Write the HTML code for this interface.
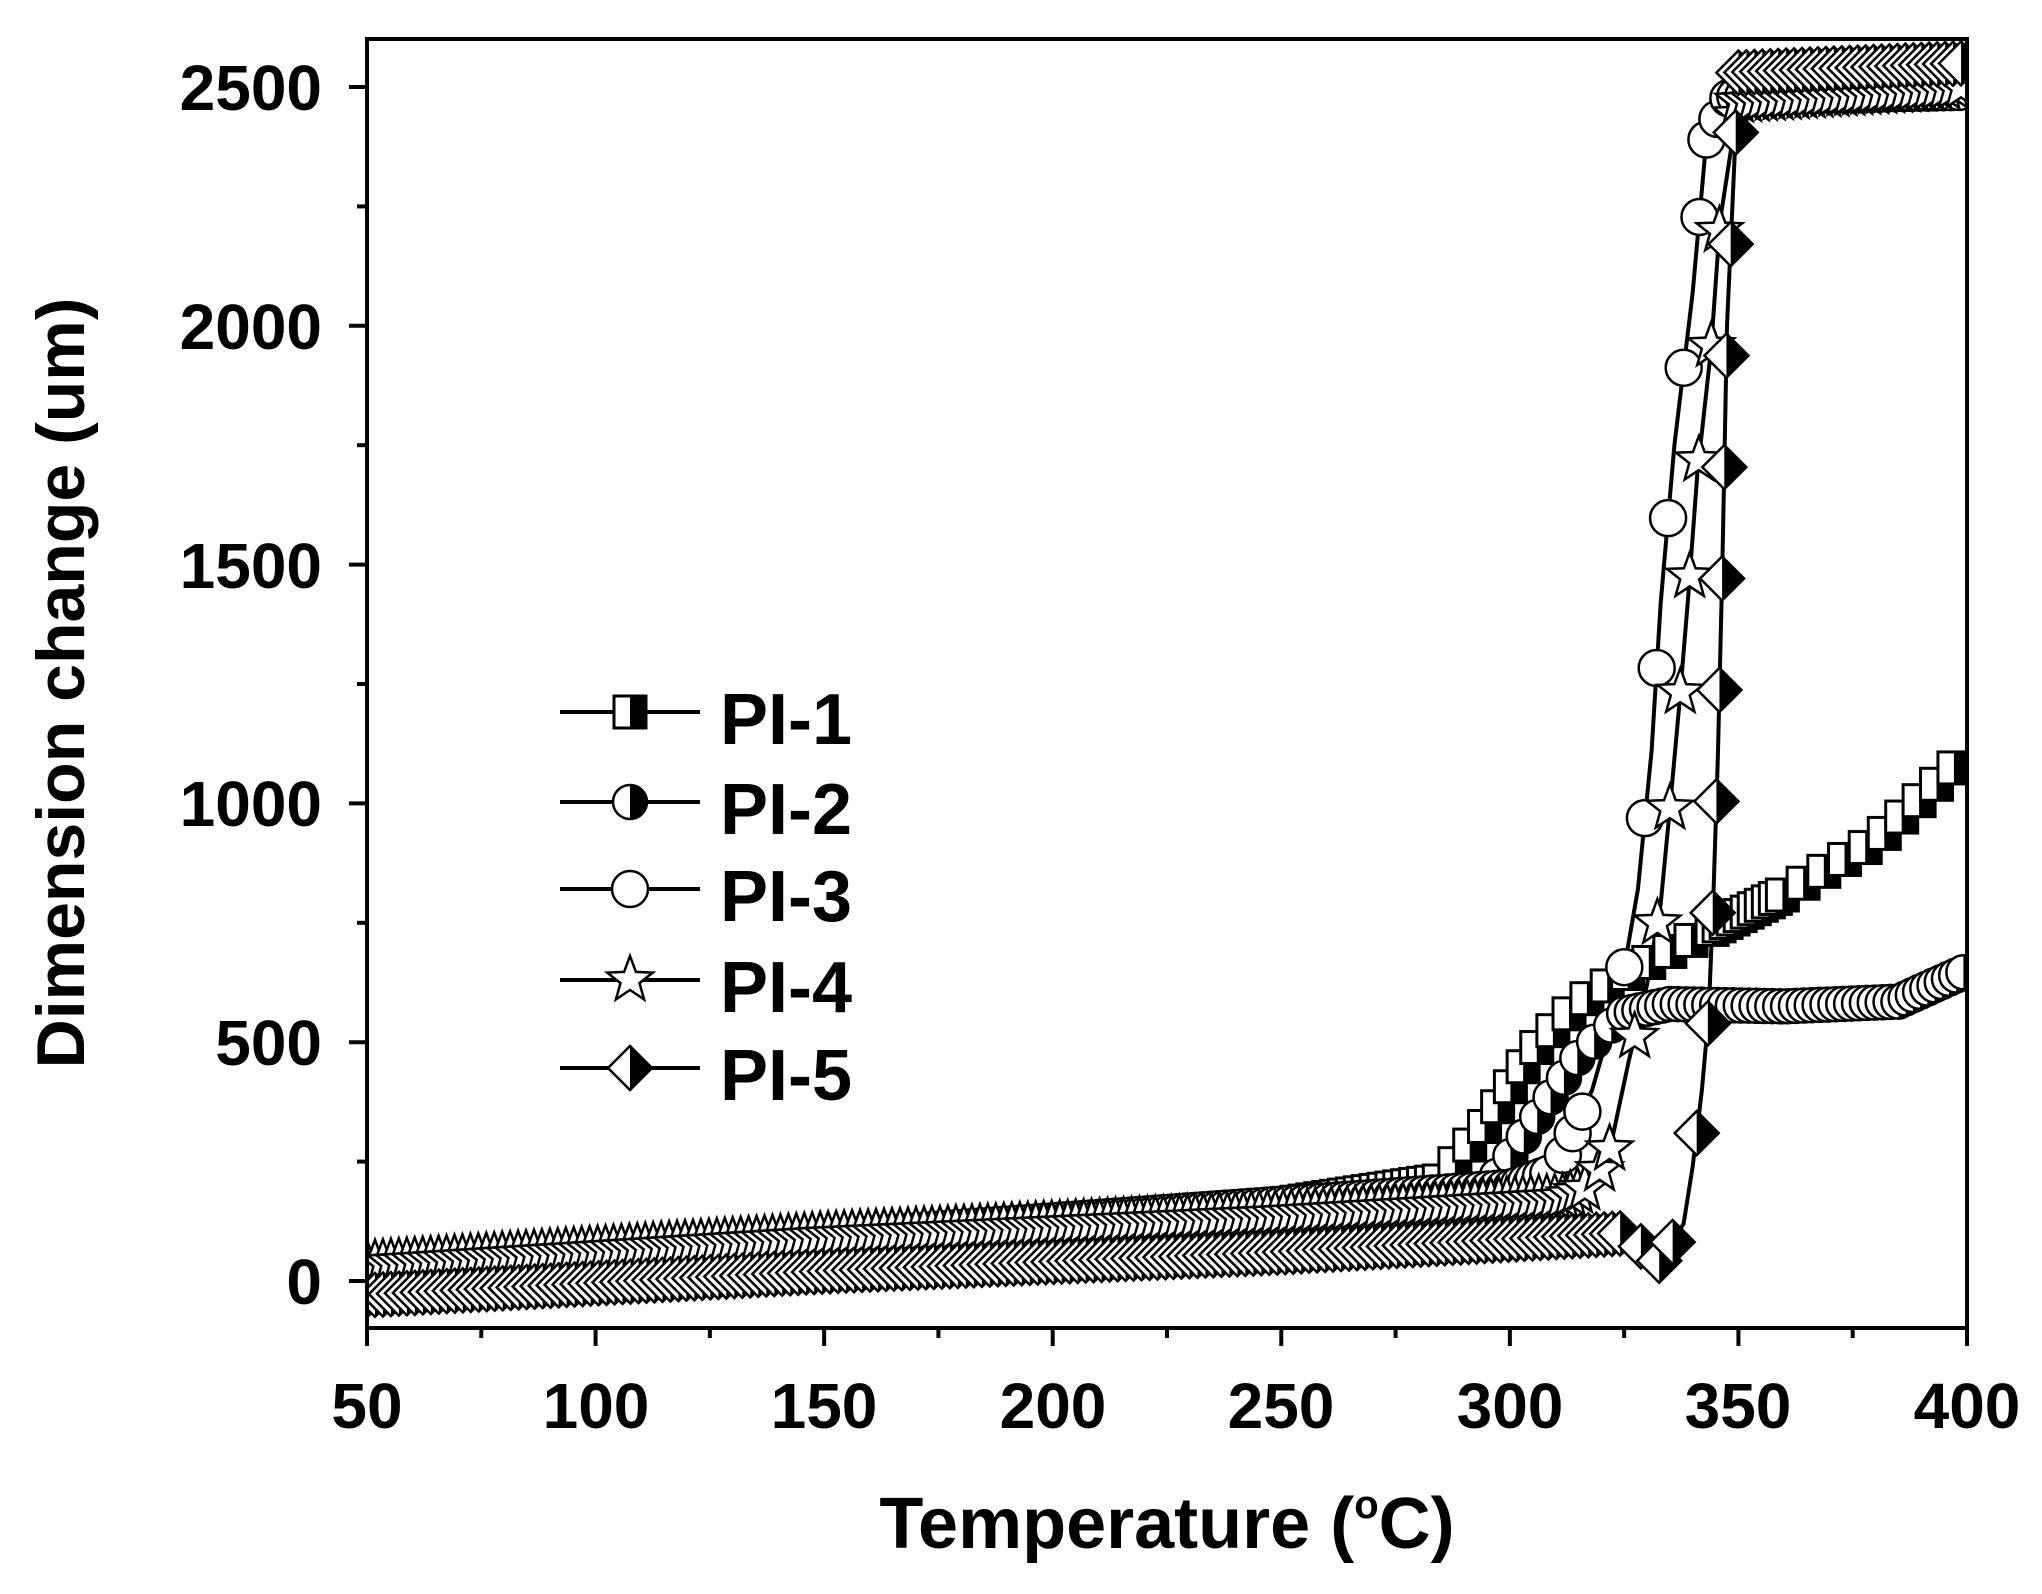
<!DOCTYPE html>
<html><head><meta charset="utf-8"><style>
html,body{margin:0;padding:0;background:#fff;}
svg{display:block;font-family:"Liberation Sans",Arial,sans-serif;font-weight:bold;}
</style></head><body>
<svg id="s" width="2042" height="1594" viewBox="0 0 2042 1594" xmlns="http://www.w3.org/2000/svg">
<defs>
<clipPath id="plot"><rect x="367" y="39" width="1600" height="1289"/></clipPath>
</defs>
<rect width="2042" height="1594" fill="#fff"/>
<g id="series" clip-path="url(#plot)"></g>
<rect x="367" y="39" width="1600" height="1289" fill="none" stroke="#000" stroke-width="4"/>
<g id="ticks" stroke="#000" stroke-width="4"></g>
<g font-size="64" text-anchor="middle">
<text x="367" y="1428">50</text><text x="596" y="1428">100</text><text x="824" y="1428">150</text>
<text x="1053" y="1428">200</text><text x="1281" y="1428">250</text><text x="1510" y="1428">300</text>
<text x="1738" y="1428">350</text><text x="1967" y="1428">400</text>
</g>
<g font-size="64" text-anchor="end">
<text x="322" y="1304">0</text><text x="322" y="1065">500</text><text x="322" y="826">1000</text>
<text x="322" y="588">1500</text><text x="322" y="349">2000</text><text x="322" y="110">2500</text>
</g>
<text x="1167" y="1548" font-size="72" text-anchor="middle">Temperature (<tspan font-size="40" dy="-30">o</tspan><tspan dy="30">C)</tspan></text>
<text transform="translate(84,683) rotate(-90)" font-size="68" text-anchor="middle">Dimension change (um)</text>
<g id="legend"></g>
</svg>
<script>
var NS="http://www.w3.org/2000/svg";
function X(t){return 367+(t-50)*1600/350;}
function Y(v){return 1281-v*(1281-87)/2500;}
function el(n,a,p){var e=document.createElementNS(NS,n);for(var k in a)e.setAttribute(k,a[k]);(p||document.getElementById('series')).appendChild(e);return e;}
var tk=document.getElementById('ticks');
for(var t=50;t<=400;t+=25){var big=(t%50==0);el('line',{x1:X(t),x2:X(t),y1:1328,y2:1328+(big?18:10)},tk);}
for(var v=0;v<=2500;v+=250){var big=(v%500==0);el('line',{x1:367,x2:367-(big?18:10),y1:Y(v),y2:Y(v)},tk);}
function marker(type,x,y,par){
  var g=el('g',{},par);
  var s=16;
  if(type=='sq'){el('rect',{x:x-s,y:y-s,width:2*s,height:2*s,fill:'#fff',stroke:'#000','stroke-width':3},g);el('rect',{x:x,y:y-s,width:s,height:2*s,fill:'#000'},g);}
  else if(type=='hc'){el('circle',{cx:x,cy:y,r:s+1,fill:'#fff',stroke:'#000','stroke-width':2.5},g);el('path',{d:'M'+x+' '+(y-s-1)+' A'+(s+1)+' '+(s+1)+' 0 0 1 '+x+' '+(y+s+1)+'Z',fill:'#000'},g);}
  else if(type=='c'){el('circle',{cx:x,cy:y,r:s+2,fill:'#fff',stroke:'#000','stroke-width':2.5},g);}
  else if(type=='st'){var p='';for(var i=0;i<10;i++){var r=i%2?10:24,a=-Math.PI/2+i*Math.PI/5;p+=(i?'L':'M')+(x+r*Math.cos(a)).toFixed(1)+' '+(y+r*Math.sin(a)).toFixed(1);}el('path',{d:p+'Z',fill:'#fff',stroke:'#000','stroke-width':2.5},g);}
  else if(type=='dm'){var d=22;el('path',{d:'M'+x+' '+(y-d)+'L'+(x+d)+' '+y+'L'+x+' '+(y+d)+'L'+(x-d)+' '+y+'Z',fill:'#fff',stroke:'#000','stroke-width':2.5},g);el('path',{d:'M'+x+' '+(y-d)+'L'+(x+d)+' '+y+'L'+x+' '+(y+d)+'Z',fill:'#000'},g);}
}
var S=[
 {m:'sq',big:40,pts:[[50,10],[150,80],[250,160],[285,210],[295,330],[305,480],[315,580],[325,640],[335,690],[345,740],[360,810],[380,920],[400,1100]]},
 {m:'hc',big:40,pts:[[50,20],[150,80],[250,150],[295,190],[305,330],[315,470],[325,560],[335,580],[360,575],[385,585],[400,650]]},
 {m:'c',big:150,pts:[[50,30],[150,90],[250,160],[300,195],[310,230],[318,400],[324,600],[328,820],[331,1110],[333,1420],[336,1750],[340,2070],[343,2390],[348,2480],[400,2490]]},
 {m:'st',big:115,pts:[[50,35],[150,95],[250,140],[312,175],[318,200],[322,280],[326,460],[330,620],[333,790],[335,990],[337,1200],[339,1430],[341,1690],[344,1950],[346,2220],[350,2470],[400,2500]]},
 {m:'dm',big:110,pts:[[50,-30],[150,20],[250,60],[325,100],[333,40],[338,120],[340,240],[342,400],[343.5,560],[344.5,800],[345.5,1100],[346.5,1500],[347.5,2000],[350,2530],[400,2550]]}
];
S.forEach(function(s){
  var P=s.pts.map(function(p){return [X(p[0]),Y(p[1]),p[0]];});
  var d='';P.forEach(function(p,i){d+=(i?'L':'M')+p[0].toFixed(1)+' '+p[1].toFixed(1);});
  el('path',{d:d,fill:'none',stroke:'#000','stroke-width':4});
});
S.forEach(function(s){
  var P=s.pts.map(function(p){return [X(p[0]),Y(p[1]),p[0]];});
  var last=null;
  for(var i=0;i<P.length-1;i++){
    var a=P[i],b=P[i+1],L=Math.hypot(b[0]-a[0],b[1]-a[1]),n=Math.ceil(L/2);
    var slope=Math.abs(b[1]-a[1])/Math.max(0.01,Math.abs(b[0]-a[0]));
    var thr=slope<0.5?6:(slope<3?23:s.big);
    for(var k=0;k<n;k++){
      var f=k/n,x=a[0]+(b[0]-a[0])*f,y=a[1]+(b[1]-a[1])*f;
      if(!last||Math.hypot(x-last[0],y-last[1])>=thr){marker(s.m,x,y);last=[x,y];}
    }
  }
});
var lg=document.getElementById('legend');
var ty=[712,802,889,980,1068];
S.forEach(function(s,i){
  el('line',{x1:560,x2:700,y1:ty[i],y2:ty[i],stroke:'#000','stroke-width':4},lg);
  marker(s.m,630,ty[i],lg);
});
</script>
<div style="position:absolute;left:0;top:0;width:2042px;height:1594px;pointer-events:none;font-family:'Liberation Sans',Arial,sans-serif;font-weight:bold;font-size:72px;line-height:1">
<div style="position:absolute;left:720px;top:684px">PI-1</div>
<div style="position:absolute;left:720px;top:774px">PI-2</div>
<div style="position:absolute;left:720px;top:861px">PI-3</div>
<div style="position:absolute;left:720px;top:952px">PI-4</div>
<div style="position:absolute;left:720px;top:1040px">PI-5</div>
</div>
</body></html>
